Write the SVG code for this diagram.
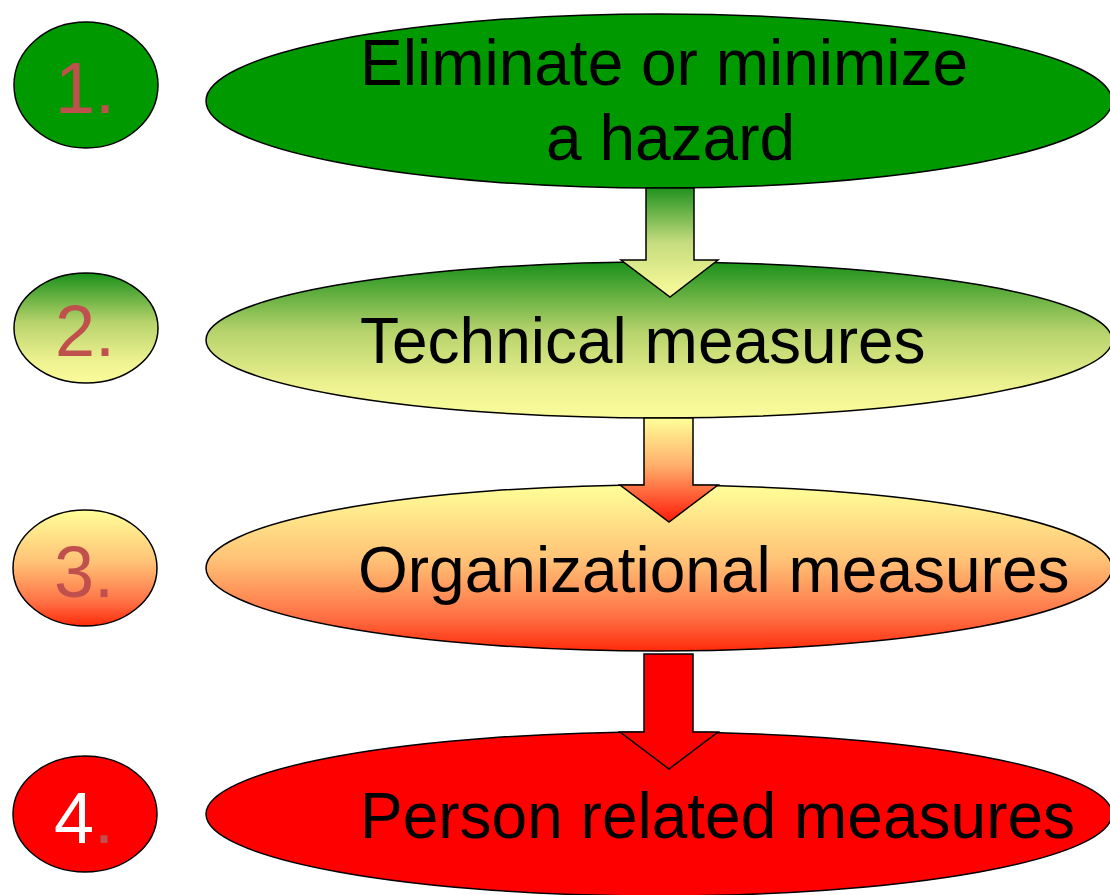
<svg xmlns="http://www.w3.org/2000/svg" width="1110" height="895" viewBox="0 0 1110 895">
<style>
.sh{stroke:#000;stroke-width:1.5}
.lbl{font-family:"Liberation Sans",Arial,sans-serif;font-size:64px;fill:#000}
.num{font-family:"Liberation Sans",Arial,sans-serif;font-size:72px;fill:#C0504D;text-anchor:middle}
</style>
<defs>
<linearGradient id="g2" x1="0" y1="0" x2="0" y2="1">
<stop offset="0" stop-color="#1a901a"/>
<stop offset="0.45" stop-color="#b7d36c"/>
<stop offset="0.8" stop-color="#eef290"/>
<stop offset="1" stop-color="#fbfb9c"/>
</linearGradient>
<linearGradient id="g3" x1="0" y1="0" x2="0" y2="1">
<stop offset="0" stop-color="#ffff99"/>
<stop offset="0.45" stop-color="#ffc276"/>
<stop offset="0.8" stop-color="#ff6f44"/>
<stop offset="1" stop-color="#ff2a0a"/>
</linearGradient>
<linearGradient id="ga1" x1="0" y1="0" x2="0" y2="1">
<stop offset="0" stop-color="#22921e"/>
<stop offset="0.5" stop-color="#c5dc7e"/>
<stop offset="1" stop-color="#fcfc9c"/>
</linearGradient>
<linearGradient id="ga2" x1="0" y1="0" x2="0" y2="1">
<stop offset="0" stop-color="#ffff99"/>
<stop offset="0.45" stop-color="#ffb06c"/>
<stop offset="1" stop-color="#ff1a08"/>
</linearGradient>
</defs>

<g id="node1">
<ellipse class="sh" cx="86" cy="85" rx="72" ry="63" fill="#009900"/>
<text class="num" x="85" y="113">1.</text>
<ellipse class="sh" cx="659" cy="101" rx="453" ry="87" fill="#009900"/>
<text class="lbl" x="360" y="85">Eliminate or minimize</text>
<text class="lbl" x="546" y="160">a hazard</text>
</g>

<g id="node2">
<ellipse class="sh" cx="86" cy="328" rx="72" ry="55" fill="url(#g2)"/>
<text class="num" x="85" y="356">2.</text>
<ellipse class="sh" cx="659" cy="340" rx="453" ry="78" fill="url(#g2)"/>
<text class="lbl" x="360" y="363">Technical measures</text>
</g>

<g id="node3">
<ellipse class="sh" cx="85" cy="568" rx="72" ry="58" fill="url(#g3)"/>
<text class="num" x="84" y="597">3.</text>
<ellipse class="sh" cx="659" cy="568" rx="453" ry="83" fill="url(#g3)"/>
<text class="lbl" x="358" y="592">Organizational measures</text>
</g>

<g id="node4">
<ellipse class="sh" cx="85" cy="814" rx="72" ry="58" fill="#ff0000"/>
<text class="num" x="84" y="843"><tspan fill="#ffffff">4</tspan>.</text>
<ellipse class="sh" cx="659" cy="814" rx="453" ry="82" fill="#ff0000"/>
<text class="lbl" x="360" y="838">Person related measures</text>
</g>

<g id="connectors">
<path class="sh" fill="url(#ga1)" d="M646 188 L694 188 L694 260 L718 260 L670 297 L621 260 L646 260 Z"/>
<path class="sh" fill="url(#ga2)" d="M644 418 L693 418 L693 485 L718 485 L669 522 L620 485 L644 485 Z"/>
<path class="sh" fill="#ff0000" d="M644 654 L693 654 L693 732 L718 732 L669 769 L620 732 L644 732 Z"/>
</g>
</svg>
